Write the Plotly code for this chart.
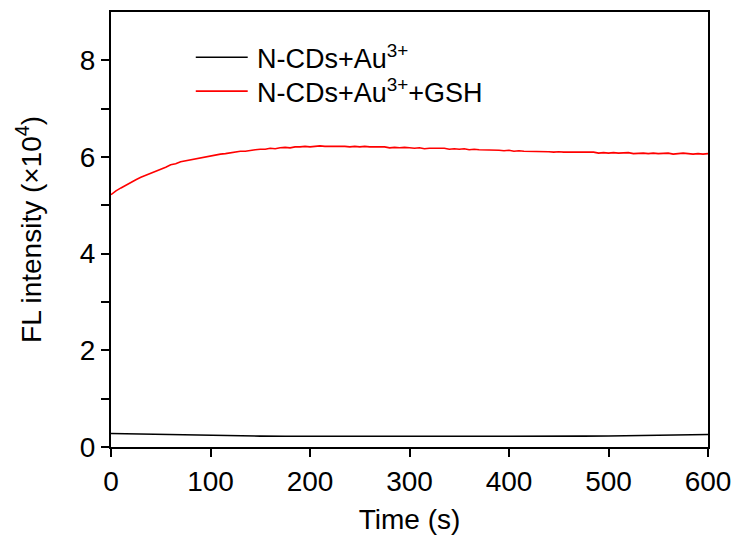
import plotly.graph_objects as go

# Time axis (s)
time_red = list(range(0, 601, 5))
time_black = list(range(0, 601, 25))

# Fluorescence intensity (x10^4), N-CDs + Au3+ + GSH
fl_red = [
    5.22, 5.30, 5.36, 5.42, 5.47, 5.53, 5.58, 5.62, 5.67, 5.71,
    5.75, 5.79, 5.84, 5.86, 5.90, 5.92, 5.95, 5.97, 5.99, 6.01,
    6.03, 6.04, 6.06, 6.07, 6.09, 6.10, 6.12, 6.12, 6.14, 6.15,
    6.16, 6.16, 6.18, 6.17, 6.19, 6.20, 6.19, 6.21, 6.21, 6.22,
    6.21, 6.22, 6.23, 6.22, 6.22, 6.23, 6.22, 6.22, 6.21, 6.22,
    6.21, 6.22, 6.21, 6.21, 6.20, 6.21, 6.19, 6.20, 6.19, 6.20,
    6.19, 6.18, 6.19, 6.17, 6.18, 6.18, 6.17, 6.18, 6.16, 6.17,
    6.16, 6.17, 6.15, 6.16, 6.15, 6.15, 6.14, 6.15, 6.14, 6.13,
    6.14, 6.12, 6.13, 6.12, 6.12, 6.11, 6.12, 6.11, 6.11, 6.10,
    6.11, 6.10, 6.10, 6.09, 6.10, 6.09, 6.09, 6.10, 6.08, 6.09,
    6.08, 6.09, 6.08, 6.08, 6.09, 6.07, 6.08, 6.08, 6.07, 6.08,
    6.07, 6.07, 6.08, 6.06, 6.07, 6.08, 6.07, 6.06, 6.07, 6.06,
    6.07,
]

# Fluorescence intensity (x10^4), N-CDs + Au3+
fl_black = [
    0.280, 0.270, 0.255, 0.245, 0.235, 0.228, 0.225, 0.222, 0.221,
    0.220, 0.220, 0.219, 0.219, 0.219, 0.220, 0.220, 0.220, 0.221,
    0.222, 0.224, 0.227, 0.231, 0.237, 0.246, 0.258,
]

series_names = ["N-CDs+Au<sup>3+</sup>", "N-CDs+Au<sup>3+</sup>+GSH"]
series_colors = ["#000000", "#ff0000"]

x_ticks = [0, 100, 200, 300, 400, 500, 600]
y_ticks = [0, 2, 4, 6, 8]
y_minor = [1, 3, 5, 7]

font_family = "Liberation Sans, Arial, sans-serif"
fsize = 28

fig = go.Figure()
fig.add_trace(go.Scatter(
    x=time_black, y=fl_black, mode="lines", name=series_names[0],
    line=dict(color=series_colors[0], width=1.6), showlegend=False,
))
fig.add_trace(go.Scatter(
    x=time_red, y=fl_red, mode="lines", name=series_names[1],
    line=dict(color=series_colors[1], width=1.6), showlegend=False,
))

# Legend: sample line + label per series, placed in paper coordinates
legend_rows_y = [0.896, 0.818]
shapes = []
annotations = []
for name, color, ly in zip(series_names, series_colors, legend_rows_y):
    shapes.append(dict(
        type="line", xref="paper", yref="paper",
        x0=0.142, x1=0.229, y0=ly, y1=ly,
        line=dict(color=color, width=1.6),
    ))
    annotations.append(dict(
        xref="paper", yref="paper", x=0.242, y=ly,
        xanchor="left", yanchor="middle", showarrow=False,
        text=name, font=dict(family=font_family, size=27, color="#000000"),
    ))

axis_common = dict(
    showline=True, linecolor="#000000", linewidth=2,
    mirror=True, showgrid=False, zeroline=False, automargin=False,
    ticks="outside", ticklen=8, tickwidth=1.6, tickcolor="#000000",
    tickfont=dict(family=font_family, size=fsize, color="#000000"),
)

fig.update_layout(
    width=738, height=543,
    margin=dict(l=111, r=30, t=12, b=96, autoexpand=False),
    paper_bgcolor="white", plot_bgcolor="white",
    font=dict(family=font_family, size=fsize, color="#000000"),
    showlegend=False,
    shapes=shapes,
    annotations=annotations,
    xaxis=dict(
        range=[0, 600], tickvals=x_ticks,
        title=dict(text="Time (s)", font=dict(size=fsize), standoff=14),
        **axis_common,
    ),
    yaxis=dict(
        range=[0, 9], tickvals=y_ticks,
        minor=dict(tickvals=y_minor, ticks="outside", ticklen=8,
                   tickwidth=1.6, tickcolor="#000000"),
        title=dict(text="FL intensity (×10<sup>4</sup>)", font=dict(size=fsize), standoff=30),
        **axis_common,
    ),
)

fig.write_html("out.html")
